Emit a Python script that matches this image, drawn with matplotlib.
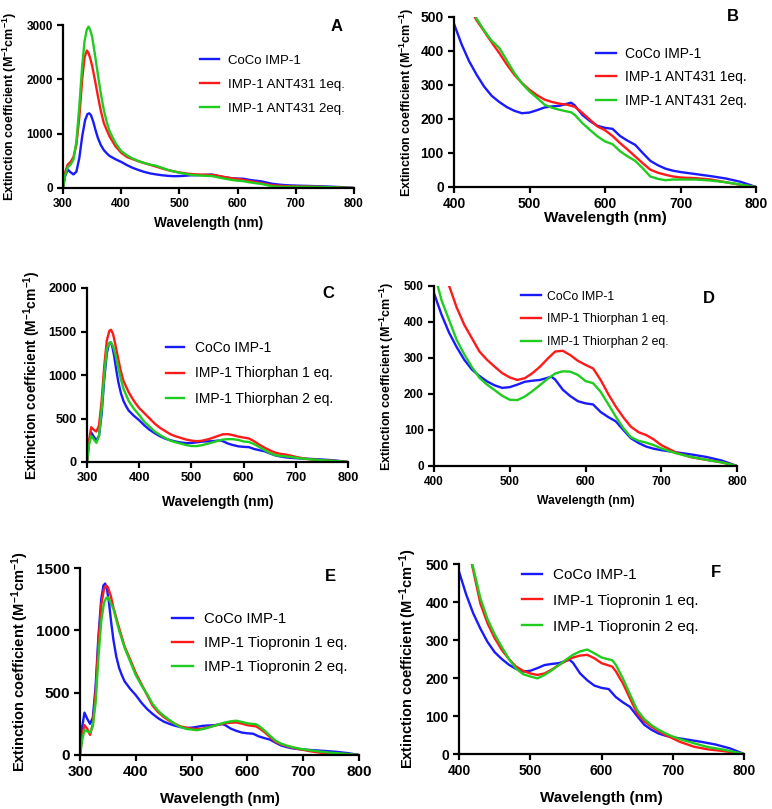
import numpy as np
import matplotlib
matplotlib.use("Agg")
import matplotlib.pyplot as plt

plt.rcParams['font.family'] = ['Liberation Sans', 'DejaVu Sans']
plt.rcParams['mathtext.fontset'] = 'custom'
plt.rcParams['mathtext.rm'] = 'Liberation Sans:bold'
plt.rcParams['mathtext.bf'] = 'Liberation Sans:bold'
plt.rcParams['mathtext.default'] = 'bf'

# данные: длина волны (nm) -> коэффициент экстинкции
wl_coco = [300, 303, 308, 313, 318, 323, 328, 333, 338, 342, 345, 348, 352, 356, 360, 365, 370,
           375, 380, 390, 400, 410, 420, 430, 440, 450, 460, 470, 480, 490, 500, 510, 520, 530,
           540, 550, 555, 560, 570, 580, 590, 600, 610, 620, 630, 640, 650, 660, 670, 680, 690,
           700, 720, 740, 760, 780, 800]
coco = [0, 200, 340, 290, 250, 300, 550, 950, 1250, 1360, 1375, 1340, 1220, 1060, 920, 790, 700,
        640, 590, 530, 480, 420, 370, 330, 295, 268, 250, 235, 224, 217, 219, 226, 234, 237,
        239, 245, 248, 240, 212, 194, 180, 174, 171, 150, 136, 124, 100, 77, 64, 54, 48,
        44, 38, 32, 25, 15, 0]

wl_ant = [300, 304, 308, 313, 318, 323, 328, 333, 337, 341, 344, 347, 350, 355, 360, 365, 370,
          375, 380, 390, 400, 410, 420, 430, 440, 450, 460, 470, 480, 490, 500, 510, 520, 530,
          540, 550, 555, 560, 570, 580, 590, 600, 610, 620, 630, 640, 650, 660, 670, 680, 690,
          700, 720, 740, 760, 780, 800]
ant_1eq = [0, 300, 430, 480, 570, 800, 1300, 2000, 2400, 2530, 2480, 2380, 2250, 1980, 1690, 1420, 1200,
           1070, 950, 770, 648, 570, 530, 490, 458, 425, 394, 360, 330, 306, 286, 270, 257, 250,
           245, 242, 239, 236, 218, 198, 178, 167, 150, 129, 110, 90, 70, 51, 42, 36, 31,
           28, 26, 22, 14, 6, 0]
ant_2eq = [0, 250, 380, 430, 525, 850, 1500, 2250, 2700, 2920, 2970, 2900, 2786, 2450, 2083, 1740, 1442,
           1220, 1045, 830, 680, 600, 540, 495, 460, 430, 409, 372, 335, 305, 281, 262, 242, 233,
           227, 222, 220, 212, 188, 168, 149, 134, 126, 105, 90, 77, 55, 31, 24, 20, 22,
           22, 22, 19, 14, 7, 0]

wl_thi = [300, 304, 308, 313, 318, 323, 328, 333, 338, 343, 346, 350, 355, 360, 365, 370, 380,
          390, 400, 405, 410, 420, 430, 440, 450, 460, 470, 480, 490, 500, 510, 520, 530, 540,
          550, 560, 570, 580, 590, 600, 610, 620, 630, 640, 650, 660, 670, 680, 690, 700, 720,
          740, 760, 780, 800]
thi_1eq = [0, 250, 400, 370, 350, 420, 700, 1100, 1400, 1510, 1520, 1470, 1330, 1180, 1040, 930, 800,
           700, 620, 590, 560, 500, 440, 392, 355, 318, 295, 276, 258, 246, 239, 244, 258, 276,
           298, 318, 320, 308, 292, 281, 271, 239, 200, 165, 135, 109, 94, 86, 74, 58, 37,
           24, 17, 10, 0]
thi_2eq = [0, 200, 300, 260, 220, 300, 600, 1000, 1300, 1370, 1375, 1330, 1220, 1080, 950, 840, 700,
           610, 540, 500, 460, 405, 350, 310, 275, 245, 226, 211, 195, 184, 183, 193, 208, 225,
           242, 257, 263, 262, 253, 236, 230, 206, 172, 137, 105, 80, 70, 65, 58, 49, 35,
           25, 17, 10, 0]

wl_tio = [300, 304, 308, 313, 318, 323, 328, 333, 338, 343, 347, 350, 355, 360, 370, 380, 390,
          400, 410, 420, 430, 440, 450, 460, 470, 480, 490, 500, 510, 520, 530, 540, 550, 560,
          570, 580, 590, 600, 610, 615, 620, 630, 640, 650, 660, 670, 680, 690, 700, 710, 730,
          750, 770, 800]
tio_1eq = [0, 150, 240, 210, 161, 250, 500, 900, 1200, 1330, 1360, 1345, 1280, 1180, 1020, 870, 765,
           657, 570, 483, 396, 344, 305, 274, 250, 230, 219, 212, 208, 212, 222, 234, 245, 254,
           259, 261, 252, 239, 233, 230, 218, 186, 146, 107, 86, 72, 60, 50, 41, 32, 19,
           12, 8, 0]
tio_2eq = [0, 120, 200, 190, 180, 230, 420, 780, 1070, 1220, 1260, 1265, 1220, 1170, 1000, 860, 750,
           640, 560, 490, 410, 355, 315, 282, 250, 225, 210, 204, 199, 208, 220, 234, 248, 261,
           270, 275, 265, 254, 249, 247, 235, 199, 157, 116, 92, 76, 64, 54, 46, 39, 28,
           18, 12, 0]

coco_lab = 'CoCo IMP-1'
ant_labs = ['IMP-1 ANT431 1eq.', 'IMP-1 ANT431 2eq.']
thi_labs = ['IMP-1 Thiorphan 1 eq.', 'IMP-1 Thiorphan 2 eq.']
tio_labs = ['IMP-1 Tiopronin 1 eq.', 'IMP-1 Tiopronin 2 eq.']

W, H = 772, 809
fig = plt.figure(figsize=(W / 100, H / 100), dpi=100)


def make_ax(l, r, t, b):
    # координаты осей в пикселях -> доли фигуры
    return fig.add_axes([l / W, 1 - b / H, (r - l) / W, (b - t) / H])


def panel(ax, series, labels, xlim, ylim, yticks, letter, tfs, yfs, xfs, lfs,
          leg_xy, hl, htp, spacing, let_xy, ylab_x, xlab_pad):
    colors = ['#1a1aff', '#ff1a1a', '#1fcc1f']
    for (x, y), lab, c in zip(series, labels, colors):
        ax.plot(x, y, color=c, lw=1.7, label=lab)
    ax.set_xlim(*xlim)
    ax.set_ylim(*ylim)
    ax.set_xticks(np.arange(xlim[0], xlim[1] + 1, 100))
    ax.set_yticks(yticks)
    for s in ['top', 'right']:
        ax.spines[s].set_visible(False)
    for s in ['left', 'bottom']:
        ax.spines[s].set_linewidth(1.6)
    ax.tick_params(width=1.6, length=4.3, labelsize=tfs, pad=3)
    for t in ax.get_xticklabels() + ax.get_yticklabels():
        t.set_fontweight('bold')
    ax.set_xlabel('Wavelength (nm)', fontsize=xfs, fontweight='bold', labelpad=xlab_pad)
    ax.set_ylabel(r'Extinction coefficient (M$^{-1}$cm$^{-1}$)', fontsize=yfs, fontweight='bold')
    ax.yaxis.set_label_coords(ylab_x, 0.5)
    ax.legend(loc='upper left', bbox_to_anchor=leg_xy, frameon=False, fontsize=lfs,
              handlelength=hl, handletextpad=htp, labelspacing=spacing, borderpad=0, borderaxespad=0)
    ax.text(let_xy[0], let_xy[1], letter, transform=ax.transAxes, fontsize=12,
            fontweight='bold', ha='center', va='center')


axA = make_ax(63, 354, 25, 188)
panel(axA, [(wl_coco, coco), (wl_ant, ant_1eq), (wl_ant, ant_2eq)],
      [coco_lab] + ant_labs, (300, 800), (0, 3000), [0, 1000, 2000, 3000], 'A',
      8.5, 9, 9.8, 9.5, (0.471, 0.82), 1.4, 0.75, 0.9, (0.94, 0.99), -0.15, 4)

axB = make_ax(454, 756, 17, 187)
panel(axB, [(wl_coco, coco), (wl_ant, ant_1eq), (wl_ant, ant_2eq)],
      [coco_lab] + ant_labs, (400, 800), (0, 500), [0, 100, 200, 300, 400, 500], 'B',
      10, 9, 11, 10, (0.47, 0.825), 1.45, 0.65, 0.69, (0.924, 1.0), -0.125, 0)

axC = make_ax(87, 348, 288, 462)
panel(axC, [(wl_coco, coco), (wl_thi, thi_1eq), (wl_thi, thi_2eq)],
      [coco_lab] + thi_labs, (300, 800), (0, 2000), [0, 500, 1000, 1500, 2000], 'C',
      9.2, 10, 10, 10, (0.303, 0.697), 1.3, 0.8, 0.84, (0.923, 0.971), -0.17, 8)

axD = make_ax(434, 737, 286, 466)
panel(axD, [(wl_coco, coco), (wl_thi, thi_1eq), (wl_thi, thi_2eq)],
      [coco_lab] + thi_labs, (400, 800), (0, 500), [0, 100, 200, 300, 400, 500], 'D',
      8.5, 9, 8.7, 8.8, (0.287, 0.975), 1.6, 0.5, 0.88, (0.908, 0.928), -0.125, 5)

axE = make_ax(80, 359, 568, 755)
panel(axE, [(wl_coco, coco), (wl_tio, tio_1eq), (wl_tio, tio_2eq)],
      [coco_lab] + tio_labs, (300, 800), (0, 1500), [0, 500, 1000, 1500], 'E',
      11, 10.5, 10.8, 10.8, (0.33, 0.764), 1.4, 0.73, 0.67, (0.896, 0.952), -0.175, 9)

axF = make_ax(459, 744, 564, 754)
panel(axF, [(wl_coco, coco), (wl_tio, tio_1eq), (wl_tio, tio_2eq)],
      [coco_lab] + tio_labs, (400, 800), (0, 500), [0, 100, 200, 300, 400, 500], 'F',
      10, 10.5, 11, 11, (0.221, 0.979), 1.3, 0.72, 0.77, (0.902, 0.953), -0.14, 9)

fig.savefig('out.png', dpi=100)
